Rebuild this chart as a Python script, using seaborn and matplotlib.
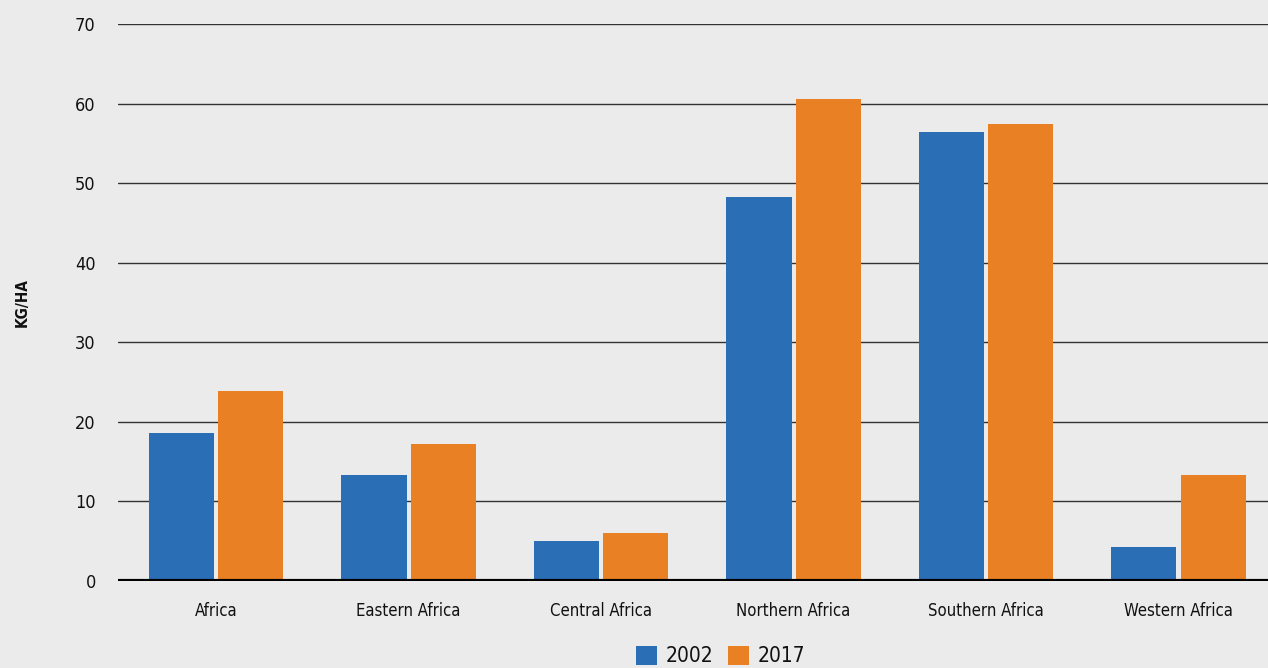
import matplotlib
matplotlib.use("Agg")
import matplotlib.pyplot as plt
import seaborn as sns
import pandas as pd

regions = ["Africa", "Eastern Africa", "Central Africa", "Northern Africa",
           "Southern Africa", "Western Africa"]
years = ["2002", "2017"]
values_2002 = [18.6, 13.3, 5.0, 48.3, 56.4, 4.3]
values_2017 = [23.9, 17.2, 6.0, 60.6, 57.4, 13.3]
yticks = [0, 10, 20, 30, 40, 50, 60, 70]

df = pd.DataFrame({
    "region": regions * 2,
    "year": [years[0]] * len(regions) + [years[1]] * len(regions),
    "kgha": values_2002 + values_2017,
})

bg = "#ebebeb"
sns.set_theme(style="white")
plt.rcParams["font.family"] = ["DejaVu Sans"]
plt.rcParams["font.stretch"] = "condensed"

fig = plt.figure(figsize=(12.68, 6.68), dpi=100, facecolor=bg)
ax = fig.add_axes([0.0931, 0.1302, 0.9069, 0.8338], facecolor=bg)

# gridlines sit behind the bars
for t in yticks[1:]:
    ax.axhline(t, color="#333333", lw=1.0, zorder=0)

sns.barplot(data=df, x="region", y="kgha", hue="year",
            palette={"2002": "#2a6eb6", "2017": "#e98124"},
            width=0.72, gap=0.06, saturation=1, linewidth=0,
            ax=ax, zorder=2)

ax.axhline(0, color="black", lw=3, zorder=3)
ax.set_xlim(-0.51, 5.465)
ax.set_ylim(0, 70)
ax.set_yticks(yticks)
ax.set_xlabel("")
ax.set_ylabel("KG/HA", fontsize=11, fontweight="bold", color="#111111")
ax.yaxis.set_label_coords(-0.077, 0.5)
ax.tick_params(axis="y", length=0, pad=16, labelsize=13, labelcolor="#111111")
ax.tick_params(axis="x", length=0, pad=15, labelsize=12, labelcolor="#111111")
for s in ax.spines.values():
    s.set_visible(False)

ax.legend(loc="center", bbox_to_anchor=(0.524, -0.135), ncol=2,
          frameon=False, fontsize=15, handlelength=1.0, handleheight=1.0,
          handletextpad=0.4, columnspacing=0.7, labelcolor="#111111")

fig.savefig("out.png", dpi=100, facecolor=bg)
